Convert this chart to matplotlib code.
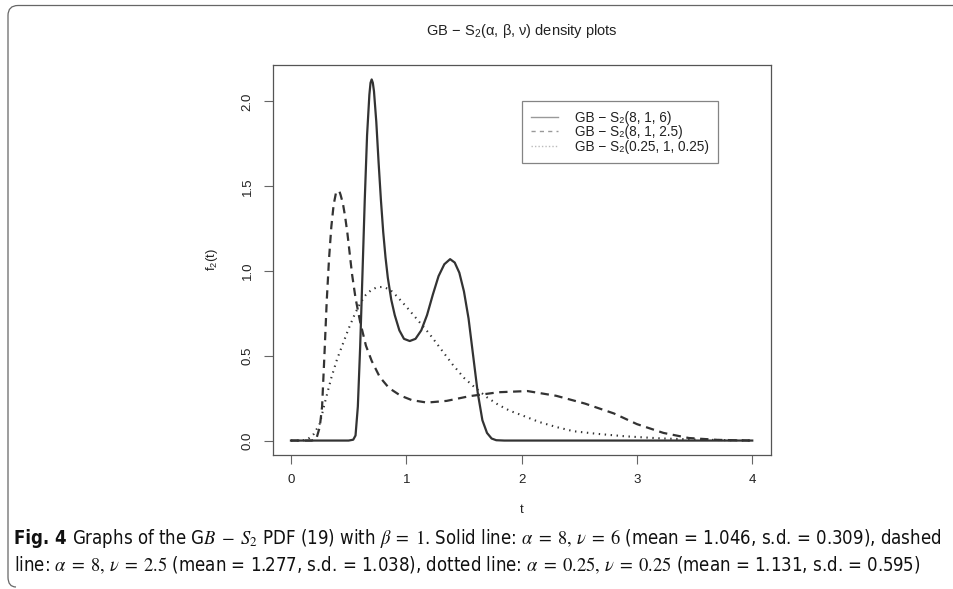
import matplotlib
matplotlib.use("Agg")
import matplotlib.pyplot as plt
from matplotlib.lines import Line2D
from matplotlib.path import Path
from matplotlib.patches import PathPatch
from matplotlib import font_manager

# ---- data ----
t_solid = [0, 0.50, 0.54, 0.56, 0.58, 0.60, 0.62, 0.64, 0.66, 0.68, 0.69, 0.70, 0.71, 0.72, 0.74,
           0.76, 0.78, 0.80, 0.82, 0.84, 0.87, 0.90, 0.94, 0.98, 1.03, 1.08, 1.13, 1.18, 1.23,
           1.28, 1.33, 1.38, 1.42, 1.46, 1.50, 1.54, 1.58, 1.62, 1.66, 1.70, 1.74, 1.78, 1.85, 4.0]
f_solid = [0, 0, 0.005, 0.03, 0.2, 0.55, 0.98, 1.42, 1.8, 2.04, 2.11, 2.13, 2.11, 2.06, 1.88,
           1.64, 1.42, 1.23, 1.08, 0.96, 0.83, 0.74, 0.65, 0.60, 0.587, 0.60, 0.65, 0.74, 0.86,
           0.97, 1.04, 1.07, 1.05, 0.99, 0.88, 0.72, 0.5, 0.28, 0.12, 0.045, 0.012, 0.002, 0, 0]

t_dash = [0, 0.18, 0.22, 0.25, 0.27, 0.29, 0.31, 0.33, 0.35, 0.37, 0.39, 0.41, 0.42, 0.43,
          0.45, 0.47, 0.49, 0.51, 0.53, 0.56, 0.60, 0.65, 0.70, 0.77, 0.85, 0.95, 1.05, 1.18,
          1.35, 1.55, 1.80, 2.05, 2.30, 2.55, 2.80, 3.00, 3.23, 3.45, 3.70, 4.0]
f_dash = [0, 0, 0.01, 0.08, 0.2, 0.5, 0.82, 1.07, 1.26, 1.39, 1.46, 1.474, 1.47, 1.45,
          1.40, 1.32, 1.22, 1.10, 0.98, 0.84, 0.70, 0.56, 0.47, 0.375, 0.31, 0.265, 0.238, 0.224,
          0.234, 0.262, 0.285, 0.292, 0.264, 0.218, 0.16, 0.097, 0.045, 0.015, 0.004, 0]

t_dot = [0, 0.10, 0.15, 0.20, 0.25, 0.30, 0.35, 0.40, 0.45, 0.50, 0.55, 0.60, 0.65, 0.70,
         0.75, 0.80, 0.86, 0.92, 1.00, 1.10, 1.20, 1.30, 1.40, 1.50, 1.60, 1.70, 1.80, 1.90,
         2.00, 2.15, 2.30, 2.45, 2.65, 2.90, 3.20, 3.50, 3.80, 4.0]
f_dot = [0, 0, 0.01, 0.04, 0.1, 0.24, 0.37, 0.48, 0.57, 0.66, 0.74, 0.81, 0.86, 0.89,
         0.905, 0.906, 0.89, 0.85, 0.79, 0.71, 0.63, 0.54, 0.45, 0.37, 0.31, 0.255, 0.21, 0.175,
         0.15, 0.11, 0.08, 0.055, 0.04, 0.025, 0.013, 0.006, 0.002, 0]

labels = ["GB − S₂(8, 1, 6)",
          "GB − S₂(8, 1, 2.5)",
          "GB − S₂(0.25, 1, 0.25)"]
x_ticks = [0, 1, 2, 3, 4]
y_ticks = [0.0, 0.5, 1.0, 1.5, 2.0]

title = r"GB$\,-\,$S$_2$(α, β, ν) density plots"
cap_bold = "Fig. 4"
cap_line1 = (r"Graphs of the G$B \;-\; S_2$ PDF (19) with $\beta \;=\; 1$. Solid line: "
             r"$\alpha \;=\; 8,\, \nu \;=\; 6$ (mean = 1.046, s.d. = 0.309), dashed")
cap_line2 = (r"line: $\alpha \;=\; 8,\, \nu \;=\; 2.5$ (mean = 1.277, s.d. = 1.038), dotted line: "
             r"$\alpha \;=\; 0.25,\, \nu \;=\; 0.25$ (mean = 1.131, s.d. = 0.595)")

W, H = 954, 589
plt.rcParams['font.family'] = ['Liberation Sans', 'DejaVu Sans']
plt.rcParams['mathtext.fontset'] = 'custom'
plt.rcParams['mathtext.rm'] = 'Liberation Sans'
plt.rcParams['mathtext.it'] = 'Liberation Sans:italic'
plt.rcParams['mathtext.bf'] = 'Liberation Sans:bold'
plt.rcParams['lines.scale_dashes'] = False

# look for a narrow sans for the caption
cap_font = 'Liberation Sans'
cap_stretch = 'normal'
for fe in font_manager.fontManager.ttflist:
    nm = fe.name
    if 'Narrow' in nm or 'Condensed' in nm:
        cap_font = nm
        break
    if fe.stretch in ('condensed', 'semi-condensed') and 'Mono' not in nm and 'Serif' not in nm:
        cap_font = nm
        cap_stretch = fe.stretch
        break

fig = plt.figure(figsize=(W / 100, H / 100), dpi=100)
ax = fig.add_axes([272.5 / W, 1 - 455 / H, 498.2 / W, 390 / H])

ink = '#333333'
ax.plot(t_solid, f_solid, color=ink, lw=1.6, solid_joinstyle='round')
ax.plot(t_dash, f_dash, color=ink, lw=1.6, dashes=(6, 4))
ax.plot(t_dot, f_dot, color=ink, lw=1.5, dashes=(1.0, 3.3))

ymax = max(f_solid)
ax.set_xlim(-0.04 * 4, 4 + 0.04 * 4)
ax.set_ylim(-0.04 * ymax, ymax * 1.04)
ax.set_xticks(x_ticks)
ax.set_yticks(y_ticks)
ax.set_yticklabels([f"{v:.1f}" for v in y_ticks])
for s in ax.spines.values():
    s.set_color('#555555')
    s.set_linewidth(0.9)
ax.tick_params(length=6.5, width=0.8, color='#666666', labelsize=9.5,
               labelcolor='#222222', pad=7)
ax.tick_params(axis='y', labelrotation=90)
for lbl in ax.get_yticklabels():
    lbl.set_va('center')

ax.set_xlabel('t', fontsize=9.5, color='#222222', labelpad=13)
ax.set_ylabel(r'f$_2$(t)', fontsize=9.5, color='#222222', labelpad=16)

handles = [Line2D([], [], color='#999999', lw=1.0),
           Line2D([], [], color='#999999', lw=1.0, dashes=(3, 3)),
           Line2D([], [], color='#bbbbbb', lw=1.0, dashes=(1, 1.5))]
leg = ax.legend(handles, labels, loc='upper left', bbox_to_anchor=(0.5002, 0.9077),
                borderaxespad=0, fontsize=9.8, frameon=True, fancybox=False,
                handlelength=2.0, handletextpad=1.2, borderpad=0.7, labelspacing=0.05)
leg.get_frame().set_edgecolor('#666666')
leg.get_frame().set_linewidth(0.9)
for txt in leg.get_texts():
    txt.set_color('#222222')

fig.text(521.5 / W, 1 - 31 / H, title, ha='center', va='center', fontsize=10.5,
         color='#222222')

# caption
fig.canvas.draw()
rend = fig.canvas.get_renderer()
t0 = fig.text(14 / W, 1 - 538 / H, cap_bold, ha='left', va='center', fontsize=11,
              family=cap_font, stretch=cap_stretch, weight='bold', color='#111111')
t1 = fig.text(0, 1 - 538 / H, cap_line1, ha='left', va='center', fontsize=11,
              family=cap_font, stretch=cap_stretch, math_fontfamily='stix', color='#111111')
t2 = fig.text(14 / W, 1 - 565 / H, cap_line2, ha='left', va='center', fontsize=11,
              family=cap_font, stretch=cap_stretch, math_fontfamily='stix', color='#111111')
w1 = t0.get_window_extent(rend).width + 5 + t1.get_window_extent(rend).width
k = 930 / w1
for t in (t0, t1, t2):
    t.set_fontsize(11 * k)
fig.canvas.draw()
b0 = t0.get_window_extent(rend)
t1.set_x((b0.x1 + 5) / W)

# frame around the figure panel (open on the right)
pts = [(W, 5.5), (18, 5.5), (8, 5.5), (8, 15.5), (8, 577), (8, 587), (16, 587)]
codes = [Path.MOVETO, Path.LINETO, Path.CURVE3, Path.CURVE3, Path.LINETO, Path.CURVE3, Path.CURVE3]
frame = Path([(x / W, 1 - y / H) for x, y in pts], codes)
fig.add_artist(PathPatch(frame, transform=fig.transFigure, fill=False,
                         edgecolor='#666666', lw=0.9))

fig.savefig('out.png', dpi=100)
